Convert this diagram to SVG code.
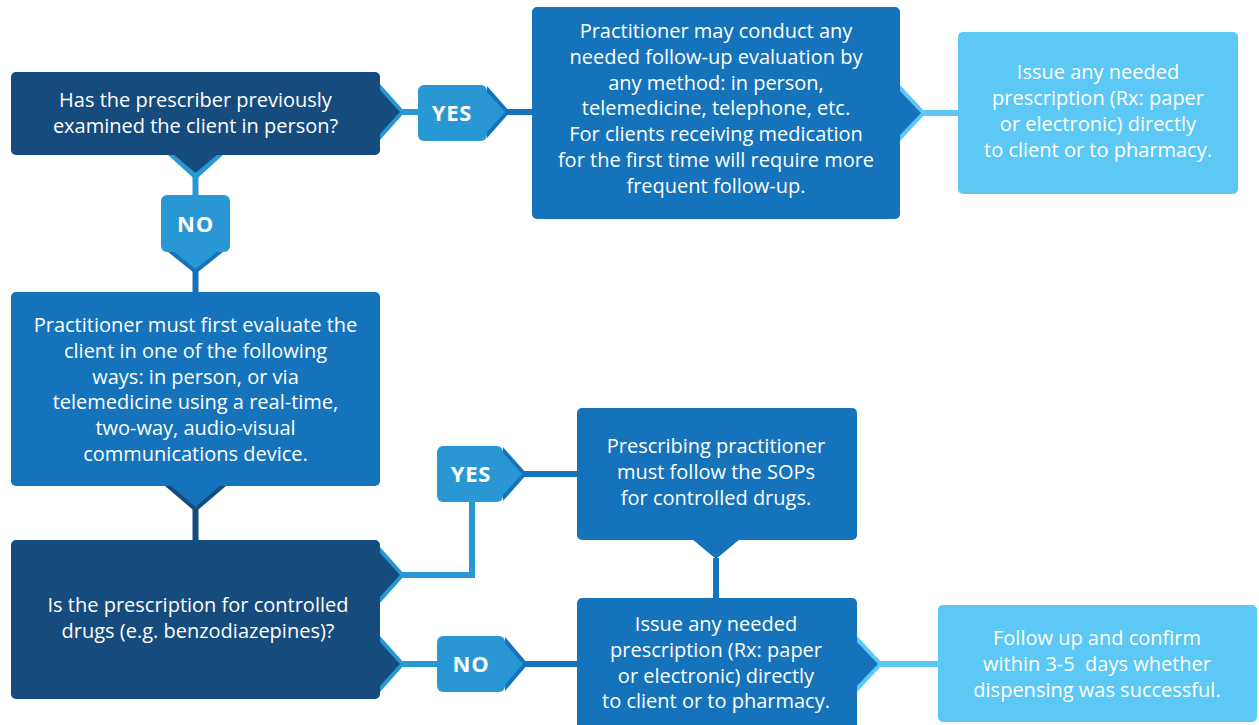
<svg xmlns="http://www.w3.org/2000/svg" width="1259" height="725" viewBox="0 0 1259 725">
<style>
.navy{fill:#164b7d}
.mid{fill:#1473ba}
.badge{fill:#2a97d5}
.light{fill:#5bc8f5}
.t{font-family:"Open Sans",Lato,"Liberation Sans",sans-serif;font-size:20px;fill:#fff;text-anchor:middle}
.b{font-family:"Open Sans",Lato,"Liberation Sans",sans-serif;font-size:22px;font-weight:bold;letter-spacing:0.8px;fill:#fff;text-anchor:middle}
.ln{fill:none;stroke-width:6}
.lb{stroke:#2a97d5}
.lm{stroke:#1473ba}
.ll{stroke:#5bc8f5}
.lnv{stroke:#164b7d}
</style>
<rect width="1259" height="725" fill="#fff"/>
<g id="connectors">
<path class="ln lb" d="M400 112H420"/>
<path class="ln lm" d="M505 112H534"/>
<path class="ln ll" d="M921 113H960"/>
<path class="ln lb" d="M195.5 172V197"/>
<path class="ln lm" d="M195.5 268V294"/>
<path class="ln lnv" d="M195.5 506V542"/>
<path class="ln lb" d="M400 575H472V500"/>
<path class="ln lm" d="M522 474H579"/>
<path class="ln lm" d="M716 558V600"/>
<path class="ln lb" d="M400 664H439"/>
<path class="ln lm" d="M523 664H579"/>
<path class="ln ll" d="M878 664H940"/>
</g>
<g id="n1">
<polygon class="badge" points="380,84 405,112 380,140"/>
<polygon class="badge" points="168,155 195.5,180 223,155"/>
<rect class="navy" x="11" y="72" width="369" height="83" rx="5"/>
<polygon class="navy" points="379,89 400,112 379,135"/>
<polygon class="navy" points="173,154 195.5,173 218,154"/>
<text class="t" x="195.5" y="107">Has the prescriber previously</text>
<text class="t" x="195.5" y="133">examined the client in person?</text>
</g>
<g id="yes1">
<polygon class="mid" points="487,86 510,112 487,138"/>
<rect class="badge" x="418" y="85" width="69" height="56" rx="6"/>
<polygon class="badge" points="486,91 505,112 486,133"/>
<text class="b" x="452" y="121">YES</text>
</g>
<g id="n2">
<polygon class="light" points="900,85 926,113 900,141"/>
<rect class="mid" x="532" y="7" width="368" height="212" rx="5"/>
<polygon class="mid" points="899,90 921,113 899,136"/>
<text class="t" x="716" y="38">Practitioner may conduct any</text>
<text class="t" x="716" y="64">needed follow-up evaluation by</text>
<text class="t" x="716" y="90">any method: in person,</text>
<text class="t" x="716" y="115">telemedicine, telephone, etc.</text>
<text class="t" x="716" y="141">For clients receiving medication</text>
<text class="t" x="716" y="167">for the first time will require more</text>
<text class="t" x="716" y="193">frequent follow-up.</text>
</g>
<g id="n3">
<rect class="light" x="958" y="32" width="280" height="162" rx="5"/>
<text class="t" x="1098" y="79">Issue any needed</text>
<text class="t" x="1098" y="105">prescription (Rx: paper</text>
<text class="t" x="1098" y="131">or electronic) directly</text>
<text class="t" x="1098" y="157">to client or to pharmacy.</text>
</g>
<g id="no1">
<polygon class="mid" points="168,252 195.5,274 223,252"/>
<rect class="badge" x="161" y="195" width="69" height="57" rx="6"/>
<polygon class="badge" points="173,251 195.5,269 218,251"/>
<text class="b" x="195.5" y="232">NO</text>
</g>
<g id="n4">
<polygon class="navy" points="165,486 195.5,512 226,486"/>
<rect class="mid" x="11" y="292" width="369" height="194" rx="5"/>
<polygon class="mid" points="170,485 195.5,507 221,485"/>
<text class="t" x="195.5" y="332">Practitioner must first evaluate the</text>
<text class="t" x="195.5" y="358">client in one of the following</text>
<text class="t" x="195.5" y="384">ways: in person, or via</text>
<text class="t" x="195.5" y="409">telemedicine using a real-time,</text>
<text class="t" x="195.5" y="435">two-way, audio-visual</text>
<text class="t" x="195.5" y="461">communications device.</text>
</g>
<g id="n5">
<polygon class="badge" points="380,547 405,575 380,603"/>
<polygon class="badge" points="380,636 405,664 380,692"/>
<rect class="navy" x="11" y="540" width="369" height="159" rx="5"/>
<polygon class="navy" points="379,552 400,575 379,598"/>
<polygon class="navy" points="379,641 400,664 379,687"/>
<text class="t" x="198" y="612">Is the prescription for controlled</text>
<text class="t" x="198" y="638">drugs (e.g. benzodiazepines)?</text>
</g>
<g id="yes2">
<polygon class="mid" points="503,447 527,474 503,501"/>
<rect class="badge" x="437" y="446" width="66" height="56" rx="6"/>
<polygon class="badge" points="502,452 522,474 502,496"/>
<text class="b" x="471" y="482">YES</text>
</g>
<g id="n6">
<rect class="mid" x="577" y="408" width="280" height="132" rx="5"/>
<polygon class="mid" points="692,539 716,559 740,539"/>
<text class="t" x="716" y="453">Prescribing practitioner</text>
<text class="t" x="716" y="479">must follow the SOPs</text>
<text class="t" x="716" y="505">for controlled drugs.</text>
</g>
<g id="no2">
<polygon class="mid" points="505,637 528,664 505,691"/>
<rect class="badge" x="437" y="636" width="68" height="56" rx="6"/>
<polygon class="badge" points="504,642 523,664 504,686"/>
<text class="b" x="471" y="672">NO</text>
</g>
<g id="n7">
<polygon class="light" points="857,636 883,664 857,692"/>
<rect class="mid" x="577" y="598" width="280" height="132" rx="5"/>
<polygon class="mid" points="856,641 878,664 856,687"/>
<text class="t" x="716" y="631">Issue any needed</text>
<text class="t" x="716" y="657">prescription (Rx: paper</text>
<text class="t" x="716" y="683">or electronic) directly</text>
<text class="t" x="716" y="708">to client or to pharmacy.</text>
</g>
<g id="n8">
<rect class="light" x="938" y="605" width="319" height="117" rx="5"/>
<text class="t" x="1097" y="645">Follow up and confirm</text>
<text class="t" x="1097" y="671" style="white-space:pre">within 3-5  days whether</text>
<text class="t" x="1097" y="697">dispensing was successful.</text>
</g>
</svg>
